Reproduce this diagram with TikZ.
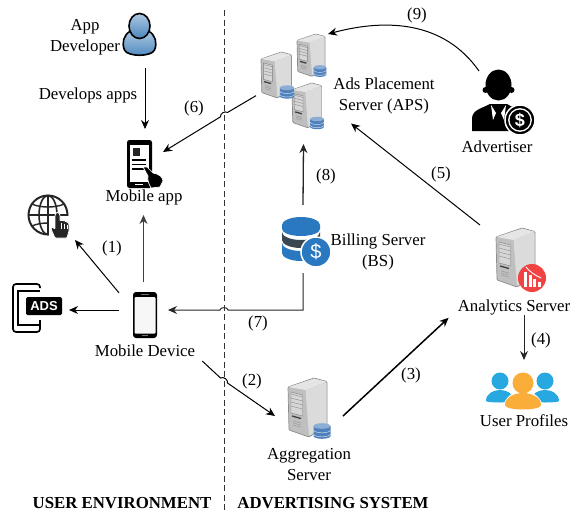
\documentclass[tikz,border=0pt]{standalone}
\usepackage{fontspec}
\setmainfont{Liberation Serif}
\setsansfont{Liberation Sans}
\usetikzlibrary{arrows.meta,calc}
\definecolor{devblue}{HTML}{4A86BE}
\definecolor{dbblue}{HTML}{4F81BD}
\definecolor{billblue}{HTML}{2A78BF}
\definecolor{billdark}{HTML}{3A4752}
\definecolor{anared}{HTML}{F24343}
\definecolor{userblue}{HTML}{27A8E0}
\definecolor{userorange}{HTML}{FBAD3A}
\definecolor{towerline}{HTML}{8C8C8C}
\tikzset{
  lbl/.style={font=\fontsize{16.8}{21}\selectfont,align=center,inner sep=0},
  numlbl/.style={font=\fontsize{16.8}{21}\selectfont,inner sep=0},
  envlbl/.style={font=\fontsize{16.8}{21}\selectfont\bfseries,inner sep=0},
  iconbox/.style 2 args={minimum width=#1pt,minimum height=#2pt,inner sep=0,outer sep=0},
  flow/.style={-{Stealth[length=9pt,width=8pt]},line width=1},
  tower/.pic={
    \draw[towerline,line width=.7,fill=black!25,rounded corners=1] (0,9) -- (26,0) -- (39,3.5) -- (39,47) -- (21,59) -- (1,52) -- cycle;
    \fill[black!14,rounded corners=1] (17.5,12) -- (38.5,4) -- (38.5,46.5) -- (21,58) -- cycle;
    \fill[black!10] (0.5,9) -- (26,.6) -- (38.5,3.7) -- (17.5,12) -- cycle;
    \draw[black!50,line width=.4,fill=black!16] (3,14) -- (14.5,17) -- (14.5,38) -- (3,35) -- cycle;
    \foreach \yy in {19,23,27,31}
      \draw[black!45,line width=.4] (3,\yy-3) -- (14.5,\yy);
    \draw[black!75,line width=1.3] (4,38) -- (13,40.5);
    \foreach \yy in {45,47,49}
      \draw[black!40,line width=.4] (5,\yy-2) -- (13,\yy);
  },
  dbstack/.pic={
    \fill[dbblue] (-8.5,-5) -- (-8.5,5) arc[start angle=180,end angle=0,x radius=8.5,y radius=2.8] -- (8.5,-5) -- cycle;
    \fill[dbblue!65] (0,-5) ellipse[x radius=8.5,y radius=2.8];
    \foreach \yy in {-1,3}
      \draw[white!70!dbblue,line width=.5] (-8.5,\yy) arc[start angle=180,end angle=0,x radius=8.5,y radius=2.8];
  },
  userfig/.pic={
    \fill[pic actions] (0,0) circle[radius=8.5];
    \path[pic actions] (-14,20) .. controls (-14,12) and (-6,9) .. (0,9) .. controls (6,9) and (14,12) .. (14,20) .. controls (14,22) and (-14,22) .. cycle;
  }
}
\begin{document}
\begin{tikzpicture}[x=1pt,y=-1pt]
  \useasboundingbox (0,0) rectangle (571,517);

  % divider
  \coordinate (divtop) at (224,10);
  \coordinate (divbot) at (224,512);
  \draw[dashed,black!80,line width=.9,dash pattern=on 6pt off 3.5pt] (divtop) -- (divbot);

  % app developer
  \begin{scope}[shift={(139.5,34)}]
    \draw[line width=1.6,top color=devblue!45,bottom color=devblue] (-15,16) .. controls (-18,9) and (-16,1) .. (-9,-3) -- (9,-3) .. controls (16,1) and (18,9) .. (15,16) .. controls (12,23) and (-12,23) .. cycle;
    \draw[line width=1.6,top color=devblue!45,bottom color=devblue] (0,-8) ellipse[x radius=10.5,y radius=12.5];
  \end{scope}

  % mobile app
  \begin{scope}[shift={(127,140)}]
    \fill[rounded corners=2.5] (0,0) rectangle (25,48);
    \fill[white] (2.5,5) rectangle (22,42);
    \fill[black!85] (6,8) rectangle (13,16);
    \foreach \yy in {20,24.5,29}
      \draw[line width=1.2] (5,\yy) -- (19,\yy);
    \draw[white,line width=.7,fill=black,line join=round] (16,27) -- (20,27) -- (26,33) .. controls (32,34) and (36,37) .. (36,41) -- (33,47) -- (24,48) .. controls (22,44) and (20,40) .. (21,36) -- cycle;
    \draw[white,line width=.8] (8,44.5) -- (16,44.5);
  \end{scope}

  % globe
  \begin{scope}[shift={(48,215)},black!85]
    \draw[line width=2] (0,0) circle[radius=19.5];
    \draw[line width=1.6] (0,0) ellipse[x radius=9,y radius=19.5];
    \draw[line width=1.6] (0,-19.5) -- (0,19.5);
    \draw[line width=1.6] (-19.5,0) -- (19.5,0);
    \draw[line width=1.4] (-16,-11) .. controls (-8,-7) and (8,-7) .. (16,-11);
    \draw[line width=1.4] (-16,11) .. controls (-8,7) and (8,7) .. (16,11);
    \fill[white] (1,1) rectangle (23,24);
    \draw[white,line width=.8,fill=black!85,line join=round,rounded corners=.8] (7,23) -- (3,14) -- (4,12) -- (7,14) -- (7,0) -- (8.5,-2.5) -- (10.5,-2.5) -- (12,0) -- (12,6) -- (14,5) -- (15,6) -- (17,5.5) -- (18,7) -- (20,7) -- (21,9) -- (21,16) -- (19,23) -- cycle;
    \draw[white,line width=.6] (13.5,8) -- (13.5,14) (16.5,8.5) -- (16.5,14) (19,9.5) -- (19,14);
  \end{scope}

  % ads
  \draw[line width=1.7,rounded corners=3] (40,288) -- (40,284) -- (13,284) -- (13,332) -- (40,332) -- (40,320);
  \draw[line width=1.5] (40,291) -- (18,291) -- (18,325) -- (40,325) -- (40,320);
  \fill[rounded corners=1.5] (26,297) rectangle (62,315);
  \node[font=\sffamily\bfseries\fontsize{13}{13}\selectfont,white,inner sep=0] (adstext) at (44,306) {ADS};

  % mobile device
  \fill[rounded corners=3] (133,292) rectangle (157,338);
  \fill[black!3,rounded corners=1] (134.5,297) rectangle (155.5,333.5);
  \draw[black!55,line width=.8] (141,294.5) -- (149,294.5);
  \draw[black!55,line width=1] (142,335.7) -- (148,335.7);

  % servers
  \pic[scale=.78] at (261,52) {tower};
  \pic[scale=.72] at (297,34) {tower};
  \pic[scale=.76] at (292,83) {tower};
  \pic[scale=.85] at (287,92) {dbstack};
  \pic[scale=.75] at (320,71) {dbstack};
  \pic[scale=.8] at (317,123) {dbstack};
  \pic at (288,378) {tower};
  \pic at (322,431) {dbstack};
  \pic at (496,228) {tower};

  % analytics badge
  \fill[anared] (532,278) circle[radius=14];
  \foreach \xx/\yy in {524/272,528.5/275,533/279,537.5/282}
    \fill[white] (\xx,\yy) rectangle (\xx+3,287);
  \draw[white,line width=.9] (526,267) .. controls (531,273) and (535,275) .. (541,278);

  % billing database
  \begin{scope}[shift={(301,225)}]
    \fill[billblue] (-19,0) -- (-19,4) arc[start angle=180,end angle=0,x radius=19,y radius=7] -- (19,0) -- cycle;
    \fill[billblue] (0,0) ellipse[x radius=19,y radius=8];
    \fill[billdark] (-19,7) arc[start angle=180,end angle=0,x radius=19,y radius=8] -- (19,15) arc[start angle=0,end angle=180,x radius=19,y radius=8] -- cycle;
    \fill[billblue] (-19,18) arc[start angle=180,end angle=0,x radius=19,y radius=8] -- (19,28) arc[start angle=0,end angle=180,x radius=19,y radius=8] -- cycle;
  \end{scope}
  \draw[white,line width=1.5,fill=billblue] (316,252) circle[radius=15];
  \node[font=\sffamily\fontsize{20}{20}\selectfont,white,inner sep=0] (billsign) at (316,252) {\$};

  % advertiser
  \fill (498.5,85) ellipse[x radius=13,y radius=15.5];
  \fill (485.5,90) circle[radius=3] (511.5,90) circle[radius=3];
  \fill (472,131) -- (472,118) .. controls (473,110) and (480,109) .. (490,104) -- (507,104) .. controls (513,107) and (515,109) .. (518,112) -- (518,131) -- cycle;
  \fill[white] (491,105) -- (496,113) -- (493,120) -- (491,105);
  \fill[white] (506,105) -- (501,113) -- (504,120) -- (506,105);
  \draw[white,line width=1.5,fill=black] (520,120) circle[radius=15];
  \draw[white,line width=1.3] (520,120) circle[radius=11.2];
  \node[font=\sffamily\bfseries\fontsize{18}{18}\selectfont,white,inner sep=0] (advsign) at (520,120) {\$};

  % user profiles
  \pic[fill=userblue] at (500,381) {userfig};
  \pic[fill=userblue] at (545,381) {userfig};
  \fill[white] (523,383) circle[radius=12];
  \path[fill=white] (503,410) .. controls (503,396) and (515,391) .. (523,391) .. controls (531,391) and (543,396) .. (543,410) -- cycle;
  \fill[userorange] (523,383) circle[radius=10.5];
  \fill[userorange] (505,405) .. controls (505,397) and (515,393) .. (523,393) .. controls (531,393) and (541,397) .. (541,405) .. controls (541,411) and (505,411) .. cycle;

  % placeholder boxes for the connectors
  \node[iconbox={34}{55}] (dev) at (139,40.5) {};
  \node[iconbox={36}{86}] (app) at (145,172) {};
  \node[iconbox={51}{45}] (globe) at (49.5,217.5) {};
  \node[iconbox={57}{48}] (ads) at (40.5,307) {};
  \node[iconbox={49}{56}] (device) at (143.5,310) {};
  \node[iconbox={95}{110}] (aps) at (303.5,89) {};
  \node[iconbox={56}{60}] (adv) at (507,101) {};
  \node[iconbox={60}{68}] (bill) at (303,239) {};
  \node[iconbox={65}{70}] (ana) at (512.5,260) {};
  \node[iconbox={68}{80}] (agg) at (309,416) {};
  \node[iconbox={76}{52}] (users) at (524,386) {};

  % labels
  \node[lbl] (devlbl) at (85,37) {App\\Developer};
  \node[lbl] (devapps) at (88,95) {Develops apps};
  \node[lbl] (applbl) at (144,197) {Mobile app};
  \node[lbl] (devicelbl) at (145,351) {Mobile Device};
  \node[lbl] (apslbl) at (384,96) {Ads Placement\\Server (APS)};
  \node[lbl] (advlbl) at (497,147) {Advertiser};
  \node[lbl] (billlbl) at (378,252) {Billing Server\\(BS)};
  \node[lbl] (analbl) at (514,307) {Analytics Server};
  \node[lbl] (userlbl) at (524,421) {User Profiles};
  \node[lbl] (agglbl) at (309,465) {Aggregation\\Server};
  \node[envlbl] (userenv) at (122,503) {USER ENVIRONMENT};
  \node[envlbl] (advsys) at (333,503) {ADVERTISING SYSTEM};
  \foreach \n/\xx/\yy in {1/112/248,2/252/381,3/411/375,4/541/340,5/441/174,6/194/108,7/258/323,8/326/176,9/417/15}
    \node[numlbl] (n\n) at (\xx,\yy) {(\n)};

  % connectors
  \coordinate (j2a) at (220.5,378);
  \coordinate (j2b) at (227.5,383);
  \coordinate (j6a) at (227.5,112.5);
  \coordinate (j6b) at (220.5,116.8);
  \coordinate (j7a) at (228,310);
  \coordinate (j7b) at (220,310);

  \draw[flow] (dev.south -| app.north) -- (app.north);
  \draw[flow] (aps.188) -- (j6a) to[bend right=70] (j6b) -- (app.48);
  \draw[flow,black!75] (device.north) -- (device.north |- app.south);
  \draw[flow] (device.145) -- (globe.south east);
  \draw[flow] (device.west) -- (device.west -| ads.east);
  \draw[flow,black!85] (bill.south) |- (j7a) to[bend right=90] (j7b) -- (device.east);
  \draw[flow] ([shift={(7,4)}]devicelbl.south east) -- (j2a) to[bend left=70] (j2b) -- (agg.west);
  \draw[flow,line width=1.5] (agg.east) -- ([shift={(-9,3)}]analbl.south west);
  \draw[flow,black!85] (users.north |- analbl.south) -- (users.north);
  \draw[flow] (ana.north west) -- (aps.-36);
  \draw[flow,black!85,line width=1.3] (bill.north) -- (aps.south);
  \draw[flow] (adv.north west) to[out=125,in=15] (aps.66);
\end{tikzpicture}
\end{document}
